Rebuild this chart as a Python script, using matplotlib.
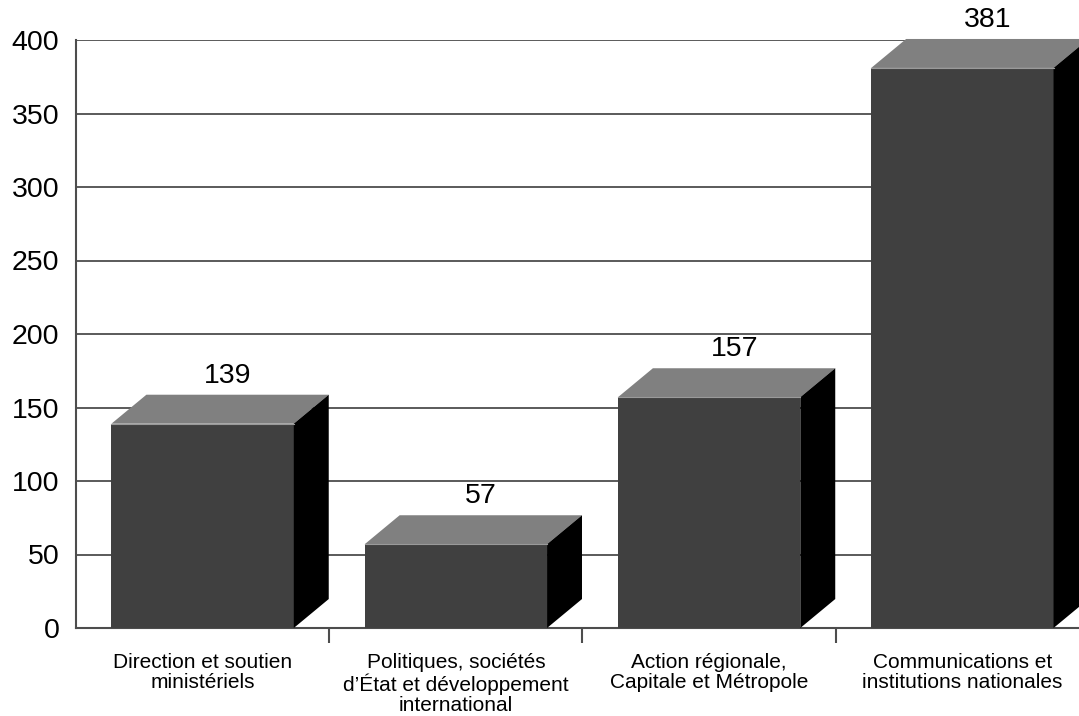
import matplotlib
matplotlib.use("Agg")
import matplotlib.pyplot as plt
from matplotlib.patches import Polygon

plt.rcParams['font.family'] = ['Liberation Sans', 'DejaVu Sans']

# --- données ---
categories = [
    "Direction et soutien\nministériels",
    "Politiques, sociétés\nd\u2019État et développement\ninternational",
    "Action régionale,\nCapitale et Métropole",
    "Communications et\ninstitutions nationales",
]
valeurs = [139, 57, 157, 381]
graduations = [0, 50, 100, 150, 200, 250, 300, 350, 400]

# --- style ---
COR_FACE = '#404040'
COR_TOPO = '#808080'
COR_LADO = '#000000'
COR_GRADE = '#4d4d4d'
largura = 0.72
prof_x = 0.138   # profondeur en unités de catégorie
prof_y = 19.7    # profondeur en unités de valeur

fig = plt.figure(figsize=(10.79, 7.16), dpi=100)
ax = fig.add_axes([76 / 1079, 88 / 716, 1013 / 1079, 588 / 716])

ax.set_xlim(-0.5, len(categories) - 0.5)
ax.set_ylim(0, 400)
ax.set_yticks(graduations)
ax.yaxis.grid(True, color=COR_GRADE, lw=1.3, zorder=0)
ax.set_axisbelow(True)

for i, v in enumerate(valeurs):
    x0 = i - 0.36
    x1 = x0 + largura
    frente = Polygon([(x0, 0), (x1, 0), (x1, v), (x0, v)], closed=True,
                     facecolor=COR_FACE, edgecolor='none', zorder=3, clip_on=False)
    topo = Polygon([(x0, v), (x1, v), (x1 + prof_x, v + prof_y), (x0 + prof_x, v + prof_y)],
                   closed=True, facecolor=COR_TOPO, edgecolor='none', zorder=3, clip_on=False)
    lado = Polygon([(x1, 0), (x1 + prof_x, prof_y), (x1 + prof_x, v + prof_y), (x1, v)],
                   closed=True, facecolor=COR_LADO, edgecolor='none', zorder=3, clip_on=False)
    ax.add_patch(frente)
    ax.add_patch(topo)
    ax.add_patch(lado)
    ax.plot([x0, x1], [v, v], color='#9a9a9a', lw=0.8, zorder=4, clip_on=False)
    ax.text(i + 0.1, v + prof_y + 4, str(v), ha='center', va='bottom',
            fontsize=20.5, color='black', zorder=5, clip_on=False)

# axes / ticks
ax.set_xticks(range(len(categories)))
ax.set_xticklabels(categories, fontsize=15, linespacing=1.07)
ax.set_xticks([i + 0.5 for i in range(len(categories) - 1)], minor=True)
ax.tick_params(axis='x', which='major', length=0, pad=18)
ax.tick_params(axis='x', which='minor', length=11, width=1.5, color=COR_GRADE, direction='out')
ax.tick_params(axis='y', length=0, pad=12, labelsize=20.5)

for lado_nome in ['top', 'right']:
    ax.spines[lado_nome].set_visible(False)
ax.spines['left'].set_color(COR_GRADE)
ax.spines['bottom'].set_color(COR_GRADE)
ax.spines['left'].set_linewidth(1.5)
ax.spines['bottom'].set_linewidth(1.5)

fig.savefig('out.png', dpi=100)
